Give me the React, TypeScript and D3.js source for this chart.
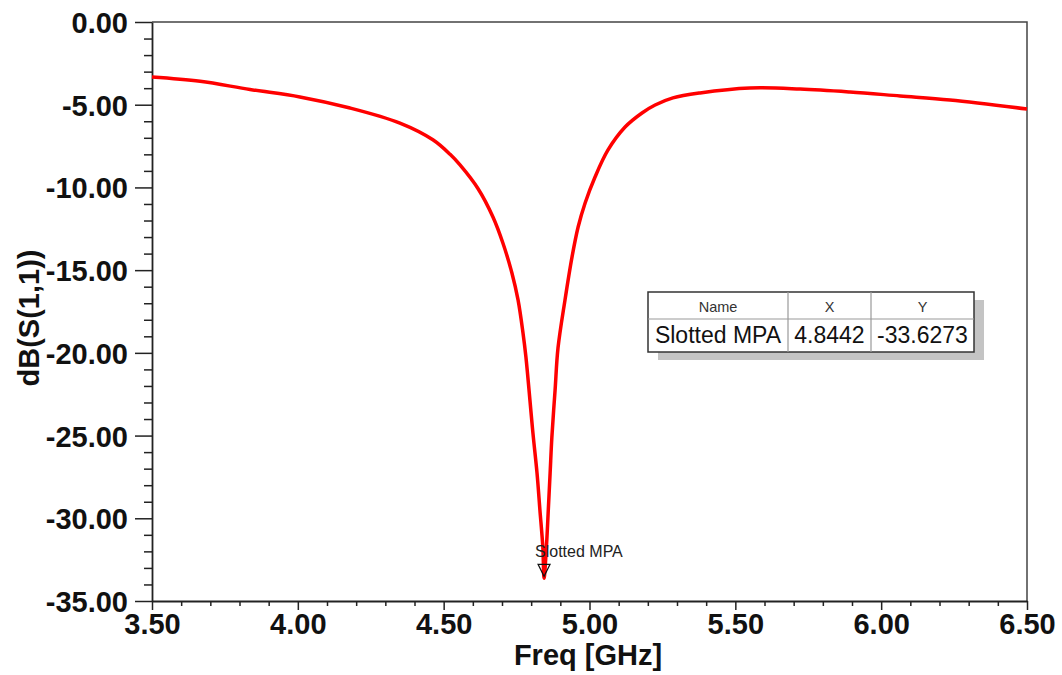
import React, { useEffect, useRef } from "react";
import * as d3 from "d3";

// S11 curve (GHz, dB)
const freqs = [
  3.5, 3.665, 3.836, 4.007, 4.179, 4.35, 4.463, 4.522, 4.556, 4.618, 4.669,
  4.703, 4.734, 4.755, 4.772, 4.782, 4.806, 4.82, 4.83, 4.84, 4.8442, 4.853,
  4.859, 4.865, 4.871, 4.882, 4.892, 4.916, 4.94, 4.961, 4.985, 5.019, 5.063,
  5.122, 5.18, 5.225, 5.286, 5.379, 5.55, 5.722, 5.893, 6.065, 6.236, 6.5,
];
const s11 = [
  -3.32, -3.58, -4.08, -4.53, -5.2, -6.11, -7.12, -8.0, -8.64, -10.08, -11.79,
  -13.36, -15.17, -16.8, -18.8, -20.25, -24.84, -27.26, -29.5, -31.74, -33.6273,
  -31.5, -29.4, -27.26, -25.09, -22.25, -19.71, -16.8, -14.21, -12.39, -10.94,
  -9.37, -7.75, -6.35, -5.5, -5.02, -4.59, -4.29, -3.99, -4.05, -4.23, -4.47,
  -4.71, -5.26,
];

const xMajor = [3.5, 4.0, 4.5, 5.0, 5.5, 6.0, 6.5];
const yMajor = [0, -5, -10, -15, -20, -25, -30, -35];

const markerName = "Slotted MPA";
const markerX = 4.8442;
const markerY = -33.6273;
const tableHeaders = ["Name", "X", "Y"];
const tableRow = [markerName, "4.8442", "-33.6273"];

const W = 1062;
const H = 675;
const FONT = "'Liberation Sans', Arial, sans-serif";

function App() {
  const svgRef = useRef<SVGSVGElement>(null);

  useEffect(() => {
    const svg = d3.select(svgRef.current);
    svg.selectAll("*").remove();

    const left = 152,
      right = 1027,
      top = 22,
      bottom = 601;

    const x = d3.scaleLinear().domain([3.5, 6.5]).range([left, right]);
    const y = d3.scaleLinear().domain([0, -35]).range([top, bottom]);

    const xMinor = d3.range(35, 66).map((v) => v / 10).filter((v) => !xMajor.some((m) => Math.abs(m - v) < 1e-6));
    const yMinor = d3.range(0, -36, -1).filter((v) => v % 5 !== 0);

    // frame (top + right)
    svg
      .append("path")
      .attr("d", `M${left},${top}H${right}V${bottom}`)
      .attr("fill", "none")
      .attr("stroke", "#444")
      .attr("stroke-width", 1.5);

    // minor ticks
    const gyMinor = svg
      .append("g")
      .attr("transform", `translate(${left},0)`)
      .call(d3.axisLeft(y).tickValues(yMinor).tickSize(8).tickFormat(() => ""));
    gyMinor.select(".domain").remove();
    const gxMinor = svg
      .append("g")
      .attr("transform", `translate(0,${bottom})`)
      .call(d3.axisBottom(x).tickValues(xMinor).tickSize(5).tickFormat(() => ""));
    gxMinor.select(".domain").remove();

    // major axes
    const gy = svg
      .append("g")
      .attr("transform", `translate(${left},0)`)
      .call(
        d3
          .axisLeft(y)
          .tickValues(yMajor)
          .tickSize(17)
          .tickPadding(7)
          .tickSizeOuter(0)
          .tickFormat((d) => (d as number).toFixed(2))
      );
    const gx = svg
      .append("g")
      .attr("transform", `translate(0,${bottom})`)
      .call(
        d3
          .axisBottom(x)
          .tickValues(xMajor)
          .tickSize(9)
          .tickPadding(3)
          .tickSizeOuter(0)
          .tickFormat((d) => (d as number).toFixed(2))
      );

    [gy, gx, gyMinor, gxMinor].forEach((g) => {
      g.selectAll("line").attr("stroke", "#222").attr("stroke-width", 1.5);
      g.selectAll(".domain").attr("stroke", "#222").attr("stroke-width", 1.8);
      g.selectAll("text")
        .attr("font-family", FONT)
        .attr("font-weight", "bold")
        .attr("font-size", 29)
        .attr("fill", "#111");
    });
    gy.selectAll("text").attr("dy", "0.36em");

    // axis titles
    svg
      .append("text")
      .attr("transform", `translate(39,318) rotate(-90)`)
      .attr("text-anchor", "middle")
      .attr("font-family", FONT)
      .attr("font-weight", "bold")
      .attr("font-size", 29)
      .attr("fill", "#111")
      .text("dB(S(1,1))");
    svg
      .append("text")
      .attr("x", 588)
      .attr("y", 665)
      .attr("text-anchor", "middle")
      .attr("font-family", FONT)
      .attr("font-weight", "bold")
      .attr("font-size", 29)
      .attr("fill", "#111")
      .text("Freq [GHz]");

    // curve
    const pts = freqs.map((f, i) => [f, s11[i]] as [number, number]);
    const line = d3
      .line<[number, number]>()
      .x((d) => x(d[0]))
      .y((d) => y(d[1]))
      .curve(d3.curveCatmullRom.alpha(0.5));
    svg
      .append("path")
      .datum(pts)
      .attr("d", line)
      .attr("fill", "none")
      .attr("stroke", "#ff0000")
      .attr("stroke-width", 3.5)
      .attr("stroke-linejoin", "round");

    // marker
    const mx = x(markerX),
      my = y(markerY);
    svg
      .append("path")
      .attr("d", `M${mx - 6},${my - 14}H${mx + 6}L${mx},${my - 2}Z`)
      .attr("fill", "none")
      .attr("stroke", "#111")
      .attr("stroke-width", 1.2);
    svg
      .append("text")
      .attr("x", mx - 9)
      .attr("y", my - 21)
      .attr("font-family", FONT)
      .attr("font-size", 16)
      .attr("fill", "#222")
      .text(markerName);

    // marker table
    const tx = 648,
      ty = 292,
      tw = 326,
      th = 60,
      hh = 27;
    const cols = [648, 788, 871, 974];
    svg
      .append("rect")
      .attr("x", tx + 10)
      .attr("y", ty + 8)
      .attr("width", tw)
      .attr("height", th)
      .attr("fill", "#c4c4c4");
    svg
      .append("rect")
      .attr("x", tx)
      .attr("y", ty)
      .attr("width", tw)
      .attr("height", th)
      .attr("fill", "#fff")
      .attr("stroke", "#333")
      .attr("stroke-width", 1.5);
    svg
      .append("line")
      .attr("x1", tx)
      .attr("x2", tx + tw)
      .attr("y1", ty + hh)
      .attr("y2", ty + hh)
      .attr("stroke", "#999")
      .attr("stroke-width", 1.2);
    cols.slice(1, 3).forEach((cx) => {
      svg
        .append("line")
        .attr("x1", cx)
        .attr("x2", cx)
        .attr("y1", ty)
        .attr("y2", ty + th)
        .attr("stroke", "#999")
        .attr("stroke-width", 1.2);
    });
    tableHeaders.forEach((t, i) => {
      svg
        .append("text")
        .attr("x", (cols[i] + cols[i + 1]) / 2)
        .attr("y", ty + 20)
        .attr("text-anchor", "middle")
        .attr("font-family", FONT)
        .attr("font-size", 14.5)
        .attr("fill", "#333")
        .text(t);
    });
    tableRow.forEach((t, i) => {
      svg
        .append("text")
        .attr("x", (cols[i] + cols[i + 1]) / 2)
        .attr("y", ty + 51)
        .attr("text-anchor", "middle")
        .attr("font-family", FONT)
        .attr("font-size", 23)
        .attr("fill", "#111")
        .text(t);
    });
  }, []);

  return (
    <svg
      ref={svgRef}
      width={W}
      height={H}
      style={{ position: "absolute", left: 0, top: 0, background: "#fff" }}
    ></svg>
  );
}

export default App;
